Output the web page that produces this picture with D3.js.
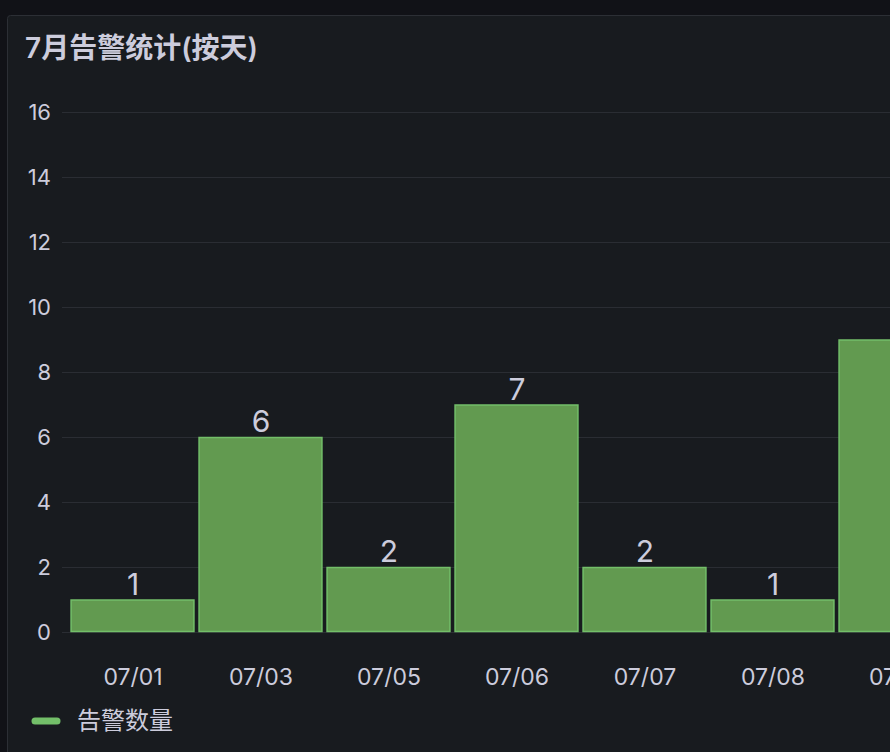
<!DOCTYPE html>
<html>
<head>
    <meta charset="utf-8">
    <title>7月告警统计(按天)</title>
    <script src="https://d3js.org/d3.v7.min.js"></script>
    <style>
        html, body { margin: 0; padding: 0; background: #111217; overflow: hidden; }
        svg { display: block; font-family: Inter, "Noto Sans CJK SC", sans-serif; }
    </style>
</head>
<body>
    <svg width="890" height="752"></svg>
    <script>
        // data
        const days = ["07/01", "07/03", "07/05", "07/06", "07/07", "07/08", "07/09"];
        const counts = [1, 6, 2, 7, 2, 1, 9];
        const yTicks = [0, 2, 4, 6, 8, 10, 12, 14, 16];
        const seriesName = "告警数量";
        const title = "7月告警统计(按天)";

        const svg = d3.select("svg");
        const textColor = "#ccccdc";
        const green = "#73bf69";

        // panel
        svg.append("rect")
            .attr("x", 7.5).attr("y", 15.5)
            .attr("width", 1000).attr("height", 800)
            .attr("rx", 3)
            .attr("fill", "#181b1f")
            .attr("stroke", "#2c2f35");

        svg.append("text")
            .attr("x", 25).attr("y", 58)
            .attr("fill", textColor)
            .attr("font-size", 28)
            .attr("font-weight", 600)
            .text(title);

        // step of 128px per day, bars ~123px wide
        const x = d3.scaleBand().domain(days).range([69, 69 + 128 * days.length]).paddingInner(0.04).paddingOuter(0.02);
        const y = d3.scaleLinear().domain([0, 16]).range([632, 112]);

        // grid
        svg.append("g").selectAll("line")
            .data(yTicks)
            .enter().append("line")
            .attr("x1", 62).attr("x2", 890)
            .attr("y1", d => y(d) + 0.5).attr("y2", d => y(d) + 0.5)
            .attr("stroke", "#2a2d33");

        // y axis labels
        svg.append("g").selectAll("text")
            .data(yTicks)
            .enter().append("text")
            .attr("x", 51).attr("y", d => y(d))
            .attr("dy", "0.36em")
            .attr("text-anchor", "end")
            .attr("fill", textColor)
            .attr("font-size", 22)
            .text(d => d);

        // bars
        svg.append("g").selectAll("rect")
            .data(counts)
            .enter().append("rect")
            .attr("x", (d, i) => x(days[i]) - 0.5)
            .attr("y", d => y(d) + 0.5)
            .attr("width", x.bandwidth())
            .attr("height", d => y(0) - y(d) - 1)
            .attr("fill", "#629a50")
            .attr("stroke", green)
            .attr("stroke-width", 1.5);

        // value labels
        svg.append("g").selectAll("text")
            .data(counts)
            .enter().append("text")
            .attr("x", (d, i) => x(days[i]) + x.bandwidth() / 2)
            .attr("y", d => y(d) - 5)
            .attr("text-anchor", "middle")
            .attr("fill", textColor)
            .attr("font-size", 30)
            .text(d => d);

        // x labels
        svg.append("g").selectAll("text")
            .data(days)
            .enter().append("text")
            .attr("x", d => x(d) + x.bandwidth() / 2)
            .attr("y", 685)
            .attr("text-anchor", "middle")
            .attr("fill", textColor)
            .attr("font-size", 23)
            .text(d => d);

        // legend
        svg.append("line")
            .attr("x1", 35).attr("x2", 57)
            .attr("y1", 721).attr("y2", 721)
            .attr("stroke", green)
            .attr("stroke-width", 7)
            .attr("stroke-linecap", "round");

        svg.append("text")
            .attr("x", 77).attr("y", 729)
            .attr("fill", textColor)
            .attr("font-size", 24)
            .text(seriesName);
    </script>
</body>
</html>
